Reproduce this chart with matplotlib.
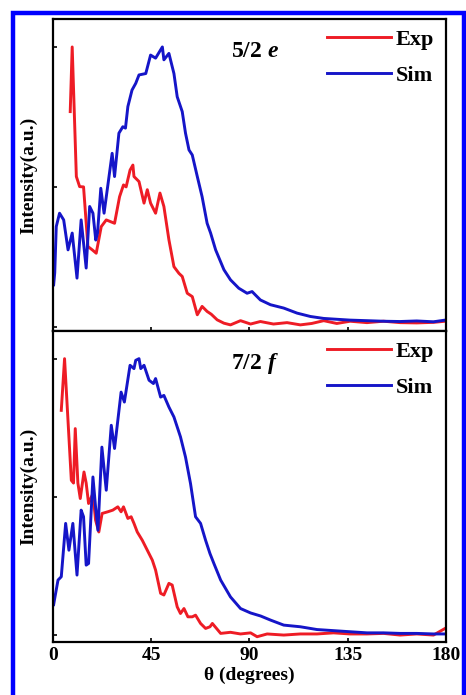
import numpy as np
import matplotlib.pyplot as plt
from matplotlib.patches import Rectangle

plt.rcParams['font.family'] = ['Liberation Serif', 'DejaVu Serif']
plt.rcParams['font.weight'] = 'bold'
plt.rcParams['mathtext.fontset'] = 'custom'
plt.rcParams['mathtext.it'] = 'Liberation Serif:italic:bold'
plt.rcParams['mathtext.rm'] = 'Liberation Serif:bold'

# panel (e) 5/2
e_exp_theta = [7.9, 8.8, 10.7, 12.2, 14.0, 16.0, 18.0, 19.8, 22.1, 24.4, 28.2, 30.5, 32.3, 33.5,
               35.3, 36.6, 37.1, 39.4, 41.7, 43.2, 44.7, 47.0, 49.0, 50.8, 53.1, 55.4, 57.7, 59.2,
               61.5, 63.8, 66.1, 68.3, 70.6, 72.5, 75.2, 78.3, 81.3, 85.9, 90.5, 95.0, 101.0, 107.2,
               113.3, 118.5, 124.0, 130.0, 136.1, 143.8, 151.4, 159.0, 166.6, 174.3, 179.6]
e_exp_int = [0.769, 1.0, 0.537, 0.501, 0.50, 0.287, 0.275, 0.263, 0.358, 0.382, 0.37, 0.465, 0.507, 0.50,
             0.56, 0.578, 0.537, 0.519, 0.442, 0.49, 0.442, 0.406, 0.478, 0.43, 0.311, 0.215, 0.191, 0.18,
             0.12, 0.108, 0.043, 0.073, 0.055, 0.045, 0.025, 0.013, 0.007, 0.022, 0.01, 0.019, 0.01, 0.015,
             0.007, 0.012, 0.022, 0.012, 0.02, 0.015, 0.02, 0.015, 0.014, 0.016, 0.02]
e_sim_theta = [0.3, 0.8, 1.5, 3.0, 4.9, 6.9, 8.8, 11.0, 12.9, 15.2, 16.8, 18.3, 19.6, 20.4, 21.9,
               23.4, 27.1, 28.2, 30.2, 32.0, 33.2, 34.3, 36.2, 37.9, 39.4, 42.5, 44.7, 47.0, 50.1,
               50.8, 53.1, 55.4, 56.9, 59.2, 60.7, 62.3, 63.8, 66.1, 68.3, 70.6, 72.2, 74.5, 78.3,
               81.3, 85.1, 88.9, 91.2, 92.7, 95.0, 99.6, 105.7, 111.8, 117.9, 124.0, 130.0, 136.1,
               143.8, 151.4, 159.0, 166.6, 174.3, 179.6]
e_sim_int = [0.15, 0.193, 0.358, 0.406, 0.382, 0.275, 0.335, 0.174, 0.382, 0.21, 0.43, 0.406, 0.31, 0.335, 0.495,
             0.406, 0.62, 0.537, 0.692, 0.715, 0.71, 0.787, 0.846, 0.87, 0.9, 0.905, 0.971, 0.96, 1.0,
             0.954, 0.977, 0.905, 0.822, 0.769, 0.692, 0.632, 0.614, 0.537, 0.465, 0.37, 0.335, 0.275, 0.204,
             0.168, 0.138, 0.12, 0.126, 0.114, 0.096, 0.079, 0.067, 0.049, 0.037, 0.03, 0.027, 0.024,
             0.022, 0.02, 0.019, 0.021, 0.018, 0.024]

# panel (f) 7/2
f_exp_theta = [3.8, 5.3, 8.4, 9.4, 10.2, 11.4, 12.5, 14.2, 15.2, 16.3, 18.3, 19.5, 21.0, 22.5, 25.1,
               27.4, 29.7, 31.2, 32.3, 34.3, 35.8, 37.1, 38.6, 40.9, 43.2, 45.5, 47.0, 49.3, 50.8, 53.1,
               54.6, 56.9, 58.4, 60.0, 61.8, 63.8, 65.3, 67.6, 69.9, 71.9, 73.0, 76.8, 81.3, 85.9, 90.5,
               93.5, 98.1, 105.7, 113.3, 120.9, 128.5, 136.1, 143.8, 151.4, 159.0, 166.6, 174.3, 179.6]
f_exp_int = [0.813, 1.0, 0.56, 0.55, 0.747, 0.55, 0.494, 0.59, 0.55, 0.476, 0.512, 0.416, 0.373, 0.44, 0.446,
             0.452, 0.464, 0.446, 0.464, 0.422, 0.428, 0.404, 0.373, 0.343, 0.307, 0.271, 0.235, 0.151, 0.145, 0.187,
             0.181, 0.102, 0.078, 0.096, 0.066, 0.066, 0.072, 0.042, 0.024, 0.03, 0.042, 0.006, 0.01, 0.004, 0.008,
             -0.006, 0.004, 0.0, 0.004, 0.004, 0.008, 0.004, 0.004, 0.006, 0.0, 0.004, 0.0, 0.024]
f_sim_theta = [0.3, 0.8, 2.3, 3.8, 5.8, 7.3, 9.1, 11.0, 12.9, 14.0, 15.2, 16.3, 18.3, 19.5, 20.6,
               22.4, 24.4, 26.7, 28.2, 31.2, 32.7, 35.3, 37.1, 37.9, 39.4, 40.2, 41.7, 44.0, 46.0,
               47.0, 49.3, 50.8, 53.1, 55.4, 58.4, 60.7, 63.0, 65.3, 67.6, 69.9, 71.9, 73.7, 76.8,
               81.3, 85.9, 90.5, 95.1, 99.7, 105.7, 113.3, 120.9, 128.5, 136.1, 143.8, 151.4, 159.0,
               166.6, 174.3, 179.6]
f_sim_int = [0.11, 0.133, 0.199, 0.211, 0.404, 0.307, 0.404, 0.217, 0.452, 0.428, 0.253, 0.259, 0.572, 0.464, 0.379,
             0.68, 0.524, 0.759, 0.675, 0.879, 0.843, 0.976, 0.964, 0.994, 1.0, 0.964, 0.976, 0.922, 0.91,
             0.928, 0.861, 0.867, 0.825, 0.789, 0.717, 0.644, 0.548, 0.428, 0.404, 0.343, 0.295, 0.259, 0.199,
             0.138, 0.096, 0.08, 0.069, 0.054, 0.036, 0.03, 0.02, 0.016, 0.012, 0.008, 0.008, 0.006,
             0.006, 0.004, 0.004]

panels = [("5/2 $\\mathit{e}$", e_exp_theta, e_exp_int, e_sim_theta, e_sim_int, (-0.015, 1.1)),
          ("7/2 $\\mathit{f}$", f_exp_theta, f_exp_int, f_sim_theta, f_sim_int, (-0.025, 1.1))]

RED = '#ee1c25'
BLUE = '#1515c8'

fig = plt.figure(figsize=(4.66, 6.95), dpi=100)
ax_top = fig.add_axes([0.1137, 0.5237, 0.8433, 0.4490])
ax_bot = fig.add_axes([0.1137, 0.0763, 0.8433, 0.4474])

for ax, (tag, ex, ey, sx, sy, ylim) in zip([ax_top, ax_bot], panels):
    ax.plot(ex, ey, color=RED, lw=2.1, label='Exp')
    ax.plot(sx, sy, color=BLUE, lw=2.1, label='Sim')
    ax.set_xlim(0, 180)
    ax.set_ylim(*ylim)
    ax.set_xticks([0, 45, 90, 135, 180])
    ax.set_yticks([0, 0.5, 1.0])
    ax.set_yticklabels([])
    ax.tick_params(direction='in', length=3, width=1.2, labelsize=14)
    for s in ax.spines.values():
        s.set_linewidth(1.6)
    ax.set_ylabel('Intensity(a.u.)', fontsize=14, fontweight='bold')
    ax.yaxis.set_label_coords(-0.04, 0.5)
    ax.text(0.453, 0.895, tag, transform=ax.transAxes, fontsize=17,
            fontweight='bold', va='center', ha='left')
    ax.legend(loc='upper right', bbox_to_anchor=(1.02, 1.03), frameon=False,
              fontsize=16, handlelength=2.9, handletextpad=0.2, labelspacing=0.68)

ax_top.set_xticklabels([])
ax_bot.set_xlabel('θ (degrees)', fontsize=14, fontweight='bold', labelpad=2)

# blue frame around the figure
fig.patches.append(Rectangle((13 / 466, -0.05), 451 / 466, 1.05 - 13 / 695,
                             transform=fig.transFigure, fill=False,
                             edgecolor='#0000ff', lw=3.2, zorder=10))

fig.savefig('out.png', dpi=100)
